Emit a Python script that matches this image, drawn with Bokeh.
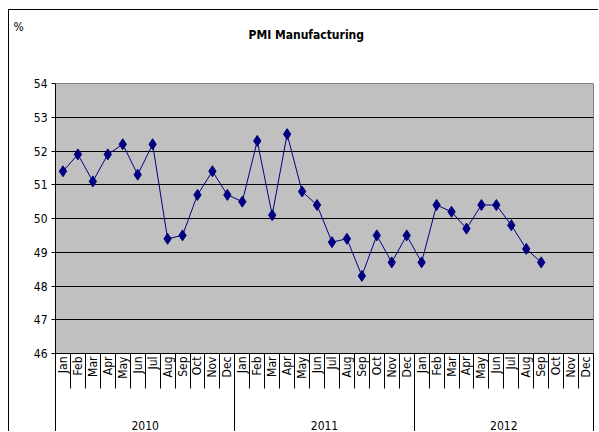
import math
from bokeh.plotting import figure
from bokeh.models import FixedTicker, LinearAxis, Range1d, Title, ColumnDataSource
from bokeh.embed import file_html
from bokeh.resources import INLINE

years = ["2010", "2011", "2012"]
months = ["Jan", "Feb", "Mar", "Apr", "May", "Jun", "Jul", "Aug", "Sep", "Oct", "Nov", "Dec"]
pmi = [51.4, 51.9, 51.1, 51.9, 52.2, 51.3, 52.2, 49.4, 49.5, 50.7, 51.4, 50.7,
       50.5, 52.3, 50.1, 52.5, 50.8, 50.4, 49.3, 49.4, 48.3, 49.5, 48.7, 49.5,
       48.7, 50.4, 50.2, 49.7, 50.4, 50.4, 49.8, 49.1, 48.7]
y_ticks = [46, 47, 48, 49, 50, 51, 52, 53, 54]

FONT = "'DejaVu Sans Condensed', 'Liberation Sans', sans-serif"
n_cat = len(years) * len(months)
x = [i + 0.5 for i in range(len(pmi))]
src = ColumnDataSource(dict(x=x, y=pmi))

p = figure(width=590, height=422, output_backend="svg", toolbar_location=None,
           x_range=Range1d(0, n_cat), y_range=Range1d(y_ticks[0], y_ticks[-1]),
           x_axis_location=None, y_axis_location="left",
           min_border_left=46, min_border_right=6, min_border_top=73, min_border_bottom=78)
p.styles = {"margin-left": "8px", "margin-top": "9px",
            "border-left": "1px solid black", "border-top": "1px solid black"}
p.background_fill_color = "#C0C0C0"
p.border_fill_color = "white"
p.outline_line_color = "#808080"
p.outline_line_width = 1

p.xgrid.visible = False
p.ygrid.grid_line_color = "black"
p.ygrid.grid_line_width = 1
p.ygrid.ticker = FixedTicker(ticks=y_ticks)

ya = p.yaxis[0]
ya.ticker = FixedTicker(ticks=y_ticks)
ya.axis_line_color = "black"
ya.major_tick_out = 4
ya.major_tick_in = 0
ya.minor_tick_line_color = None
ya.major_label_standoff = 4
ya.major_label_text_font = FONT
ya.major_label_text_font_size = "12px"
ya.major_label_text_color = "black"

# month axis: labels at category centres, separators as minor ticks between
month_pos = [i + 0.5 for i in range(n_cat)]
ax1 = LinearAxis(ticker=FixedTicker(ticks=month_pos, minor_ticks=list(range(n_cat + 1))),
                 major_label_overrides={m: months[i % 12] for i, m in enumerate(month_pos)})
ax1.major_label_orientation = math.pi / 2
ax1.major_tick_out = 0
ax1.major_tick_in = 0
ax1.minor_tick_out = 35
ax1.minor_tick_in = 0
ax1.minor_tick_line_color = "black"
ax1.axis_line_color = "black"
ax1.major_label_standoff = -32
ax1.major_label_text_font = FONT
ax1.major_label_text_font_size = "12px"
ax1.major_label_text_color = "black"
p.add_layout(ax1, "below")

# year axis: labels at group centres, separators as long minor ticks
year_pos = [i * 12 + 6 for i in range(len(years))]
ax2 = LinearAxis(ticker=FixedTicker(ticks=year_pos, minor_ticks=[i * 12 for i in range(len(years) + 1)]),
                 major_label_overrides={v: years[i] for i, v in enumerate(year_pos)})
ax2.major_tick_out = 0
ax2.major_tick_in = 0
ax2.minor_tick_out = 60
ax2.minor_tick_in = 0
ax2.minor_tick_line_color = "black"
ax2.axis_line_color = None
ax2.major_label_standoff = -21
ax2.major_label_text_font = FONT
ax2.major_label_text_font_size = "12px"
ax2.major_label_text_color = "black"
p.add_layout(ax2, "below")

p.line("x", "y", source=src, line_color="#000080", line_width=1)
p.scatter("x", "y", source=src, marker="diamond", size=11, fill_color="#000080", line_color="#000080")

# titles stack upward from the frame: spacer, chart title, unit
spacer = Title(text=" ", standoff=26, text_font_size="12px", text_font=FONT)
p.add_layout(spacer, "above")
title = Title(text="PMI Manufacturing", align="left", offset=193, standoff=0,
              text_font=FONT, text_font_style="bold", text_font_size="12px", text_color="black")
p.add_layout(title, "above")
unit = Title(text="%", align="left", offset=-42, standoff=-16,
             text_font=FONT, text_font_style="normal", text_font_size="12px", text_color="black")
p.add_layout(unit, "above")

open("out.html", "w").write(file_html(p, INLINE))
